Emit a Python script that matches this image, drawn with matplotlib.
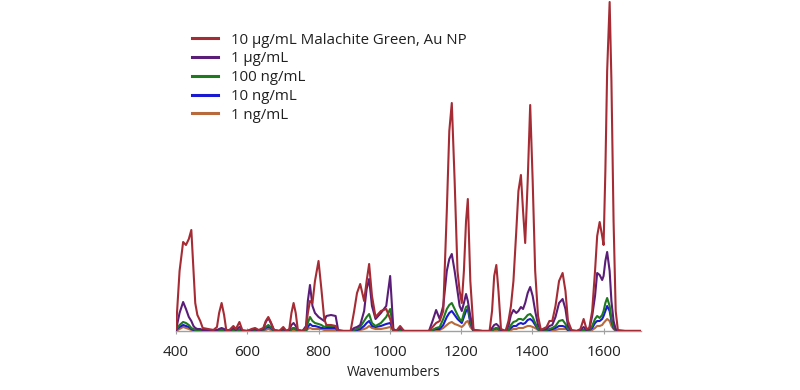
import matplotlib
matplotlib.use('Agg')
import matplotlib.pyplot as plt

# SERS spectra of malachite green on Au NP (arbitrary intensity units)
wavenumbers = [400, 410, 420, 428, 436, 443, 449, 454, 460, 468, 475, 490, 505, 515, 521, 528, 535, 541,
               550, 561, 568, 578, 586, 600, 612, 622, 632, 645, 652, 659, 666, 675, 690, 701, 710, 718,
               724, 730, 736, 742, 755, 765, 770, 776, 783, 790, 800, 808, 816, 822, 835, 848, 855, 870,
               890, 900, 908, 917, 928, 935, 942, 950, 960, 975, 990, 1001, 1010, 1018, 1029, 1040, 1060,
               1090, 1110, 1120, 1130, 1140, 1150, 1160, 1167, 1174, 1182, 1190, 1196, 1202, 1208, 1214,
               1219, 1226, 1235, 1260, 1280, 1287, 1293, 1299, 1305, 1312, 1325, 1333, 1340, 1347, 1355,
               1361, 1368, 1374, 1380, 1387, 1394, 1401, 1408, 1416, 1424, 1440, 1448, 1456, 1465, 1475,
               1485, 1493, 1500, 1510, 1525, 1535, 1544, 1552, 1560, 1568, 1576, 1582, 1589, 1596, 1600,
               1605, 1610, 1617, 1622, 1628, 1634, 1640, 1660, 1705]

mg_10ug = [2, 60, 89, 86, 92, 101, 62, 28, 16, 10, 3, 2, 1, 4, 18, 28, 16, 1,
           1, 5, 2, 9, 1, 0, 2, 3, 1, 3, 10, 14, 9, 1, 0, 4, 0, 2,
           18, 28, 18, 1, 0, 3, 18, 30, 28, 50, 70, 42, 12, 6, 6, 5, 0, 0,
           0, 20, 38, 47, 30, 50, 67, 35, 14, 20, 22, 12, 1, 0, 5, 0, 0,
           0, 0, 4, 8, 10, 20, 120, 200, 228, 150, 60, 40, 28, 60, 110,
           132, 50, 1, 0, 0, 20, 55, 66, 40, 2, 0, 10, 25, 50, 100,
           140, 156, 120, 88, 150, 226, 150, 60, 15, 1, 4, 10, 10, 25, 50,
           58, 40, 10, 1, 0, 2, 12, 2, 3, 20, 60, 95, 109, 95, 86,
           160, 260, 329, 250, 110, 20, 1, 0, 0]

mg_1ug = [1, 18, 29, 22, 14, 10, 5, 3, 2, 2, 1, 1, 1, 1, 2, 3, 2, 0,
          0, 3, 1, 4, 0, 0, 1, 2, 0, 2, 9, 13, 8, 1, 0, 2, 0, 1,
          6, 8, 5, 1, 0, 5, 30, 46, 25, 18, 14, 12, 10, 15, 16, 15, 1, 0,
          0, 3, 4, 6, 20, 42, 52, 25, 12, 18, 25, 55, 2, 0, 3, 0, 0,
          0, 0, 10, 21, 12, 25, 60, 72, 77, 60, 40, 25, 20, 28, 37,
          30, 15, 1, 0, 0, 3, 6, 7, 5, 1, 0, 5, 16, 21, 18,
          20, 24, 22, 28, 38, 44, 35, 20, 6, 1, 2, 5, 6, 14, 28,
          32, 22, 5, 0, 0, 1, 4, 1, 2, 15, 35, 58, 56, 51, 55,
          70, 79, 60, 30, 10, 2, 0, 0, 0]

mg_100ng = [1, 6, 9, 8, 6, 3, 2, 1, 1, 1, 0, 0, 0, 0, 1, 1, 1, 0,
            0, 1, 0, 1, 0, 0, 0, 1, 0, 1, 4, 6, 4, 0, 0, 1, 0, 0,
            2, 3, 2, 0, 0, 1, 8, 14, 10, 8, 7, 6, 4, 5, 5, 5, 0, 0,
            0, 1, 2, 4, 10, 14, 17, 8, 5, 8, 14, 22, 1, 0, 1, 0, 0,
            0, 0, 1, 3, 4, 12, 22, 26, 28, 22, 16, 12, 10, 18, 24,
            25, 10, 0, 0, 0, 1, 2, 3, 2, 0, 0, 1, 6, 9, 10,
            12, 12, 11, 13, 16, 17, 14, 8, 2, 0, 1, 2, 3, 5, 10,
            11, 7, 2, 0, 0, 0, 1, 0, 1, 5, 12, 15, 13, 16, 20,
            28, 33, 25, 12, 4, 1, 0, 0, 0]

mg_10ng = [1, 4, 6, 5, 4, 2, 1, 1, 0, 0, 0, 0, 0, 0, 0, 1, 0, 0,
           0, 1, 0, 1, 0, 0, 0, 0, 0, 1, 3, 4, 3, 0, 0, 0, 0, 0,
           2, 3, 2, 0, 0, 1, 4, 7, 5, 5, 4, 3, 3, 3, 3, 3, 0, 0,
           0, 1, 1, 2, 5, 8, 10, 5, 4, 5, 7, 8, 1, 0, 1, 0, 0,
           0, 0, 1, 2, 2, 6, 14, 18, 20, 16, 12, 10, 8, 14, 20,
           22, 8, 0, 0, 0, 1, 2, 3, 2, 0, 0, 1, 3, 5, 5,
           7, 8, 7, 8, 11, 12, 10, 6, 2, 0, 1, 1, 2, 3, 5,
           5, 4, 1, 0, 0, 0, 1, 0, 1, 3, 8, 10, 10, 12, 15,
           20, 25, 20, 10, 3, 1, 0, 0, 0]

mg_1ng = [0, 2, 4, 3, 2, 1, 1, 0, 0, 0, 0, 0, 0, 0, 0, 0, 0, 0,
          0, 0, 0, 0, 0, 0, 0, 0, 0, 0, 1, 2, 1, 0, 0, 0, 0, 0,
          1, 1, 1, 0, 0, 0, 2, 3, 2, 2, 2, 2, 1, 1, 1, 1, 0, 0,
          0, 0, 1, 1, 2, 3, 5, 3, 2, 2, 3, 4, 0, 0, 0, 0, 0,
          0, 0, 0, 1, 1, 3, 6, 8, 9, 7, 6, 5, 4, 6, 9,
          10, 4, 0, 0, 0, 0, 1, 1, 1, 0, 0, 0, 1, 2, 2,
          3, 3, 3, 4, 5, 5, 4, 3, 1, 0, 0, 1, 1, 1, 2,
          2, 2, 1, 0, 0, 0, 0, 0, 0, 1, 3, 5, 5, 6, 8,
          10, 12, 10, 5, 2, 0, 0, 0, 0]

labels = ['10 µg/mL Malachite Green, Au NP', '1 µg/mL', '100 ng/mL', '10 ng/mL', '1 ng/mL']
series = [mg_10ug, mg_1ug, mg_100ng, mg_10ng, mg_1ng]
colors = ['#a52c34', '#5b1e78', '#1f7a1f', '#1a1ad0', '#b86a3c']

plt.rcParams['font.family'] = ['Open Sans', 'DejaVu Sans']

fig = plt.figure(figsize=(8, 3.9), dpi=100)
ax = fig.add_axes([0.22, 0.1513, 0.58125, 0.8487])

handles = []
n = len(series)
for i in range(n):
    h, = ax.plot(wavenumbers, series[i], color=colors[i], lw=1.5, zorder=n - i + 2, label=labels[i])
    handles.append(h)

ax.set_xlim(400, 1705)
ax.set_ylim(0, 331)
ax.set_xticks([400, 600, 800, 1000, 1200, 1400, 1600])
ax.set_yticks([])
for s in ['left', 'right', 'top']:
    ax.spines[s].set_visible(False)
ax.spines['bottom'].set_color('#a0a0a0')
ax.spines['bottom'].set_linewidth(1.0)
ax.tick_params(axis='x', direction='inout', length=4, width=0.8, color='#a0a0a0',
               labelsize=11, pad=8, labelcolor='#202020')

ax.set_xlabel('Wavenumbers', fontsize=10, color='#202020')
ax.xaxis.set_label_coords(0.467, -0.103)

leg = fig.legend(handles=handles, labels=labels, loc='upper left',
                 bbox_to_anchor=(0.233, 0.932), frameon=False, fontsize=10.8,
                 handlelength=1.7, handletextpad=0.85, labelspacing=0.25, borderaxespad=0)
for t in leg.get_texts():
    t.set_color('#202020')
for lh in leg.get_lines():
    lh.set_linewidth(2.2)

fig.savefig('out.png', dpi=100)
